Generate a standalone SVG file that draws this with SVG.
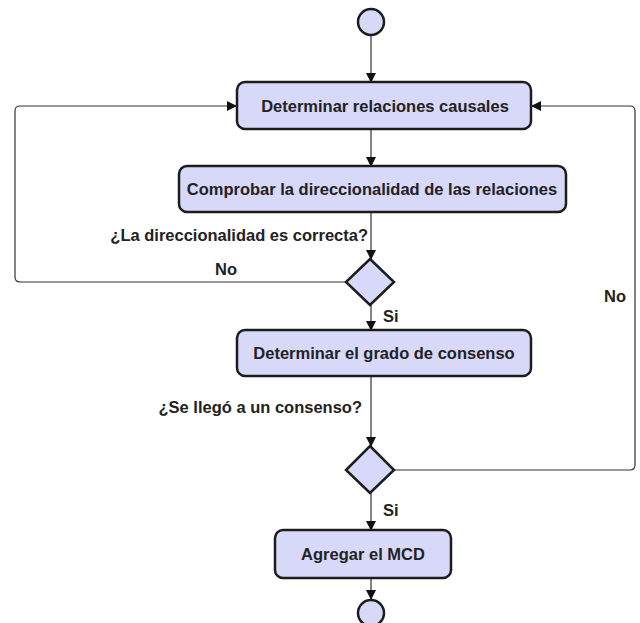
<svg xmlns="http://www.w3.org/2000/svg" width="640" height="623" viewBox="0 0 640 623">
<style>
.node{fill:#d8d8f9;stroke:#1c1c1c;stroke-width:2.5}
.t{font-family:"Liberation Sans",Arial,sans-serif;font-weight:bold;font-size:16.5px;fill:#222}
.c{fill:none;stroke:#333;stroke-width:1.2}
</style>
<defs>
<marker id="a" markerWidth="10" markerHeight="10" refX="9" refY="5" orient="auto" markerUnits="userSpaceOnUse">
<path d="M0,0 L10,5 L0,10 z" fill="#111"/>
</marker>
</defs>
<rect width="640" height="623" fill="#fff"/>
<g id="connectors">
<line class="c" x1="371" y1="35" x2="371" y2="82" marker-end="url(#a)"/>
<line class="c" x1="371" y1="129" x2="371" y2="166" marker-end="url(#a)"/>
<line class="c" x1="371" y1="212" x2="371" y2="259" marker-end="url(#a)"/>
<line class="c" x1="371" y1="305" x2="371" y2="330" marker-end="url(#a)"/>
<line class="c" x1="371" y1="376" x2="371" y2="446" marker-end="url(#a)"/>
<line class="c" x1="371" y1="493" x2="371" y2="530" marker-end="url(#a)"/>
<line class="c" x1="371" y1="578" x2="371" y2="599" marker-end="url(#a)"/>
<path class="c" d="M345,282 H20 Q15,282 15,277 V111 Q15,106 20,106 H236" marker-end="url(#a)"/>
<path class="c" d="M395,470 H630 Q635,470 635,465 V111 Q635,106 630,106 H532" marker-end="url(#a)"/>
<text class="t" x="368" y="241" text-anchor="end">¿La direccionalidad es correcta?</text>
<text class="t" x="215" y="275">No</text>
<text class="t" x="604" y="302">No</text>
<text class="t" x="383" y="322">Si</text>
<text class="t" x="362" y="413" text-anchor="end">¿Se llegó a un consenso?</text>
<text class="t" x="383" y="516">Si</text>
</g>
<g id="start"><circle class="node" cx="371" cy="22" r="13"/></g>
<g id="n1"><rect class="node" x="237" y="82" width="294" height="47" rx="8"/><text class="t" x="385" y="112" text-anchor="middle">Determinar relaciones causales</text></g>
<g id="n2"><rect class="node" x="179" y="166" width="387" height="46" rx="8"/><text class="t" x="372" y="195" text-anchor="middle">Comprobar la direccionalidad de las relaciones</text></g>
<g id="d1"><polygon class="node" points="370,259 394,282 370,305 346,282"/></g>
<g id="n3"><rect class="node" x="237" y="330" width="294" height="46" rx="8"/><text class="t" x="384" y="359" text-anchor="middle">Determinar el grado de consenso</text></g>
<g id="d2"><polygon class="node" points="370,446 394,470 370,493 346,470"/></g>
<g id="n4"><rect class="node" x="275" y="530" width="176" height="48" rx="8"/><text class="t" x="363" y="560" text-anchor="middle">Agregar el MCD</text></g>
<g id="end"><circle class="node" cx="371" cy="613" r="13"/></g>
</svg>
